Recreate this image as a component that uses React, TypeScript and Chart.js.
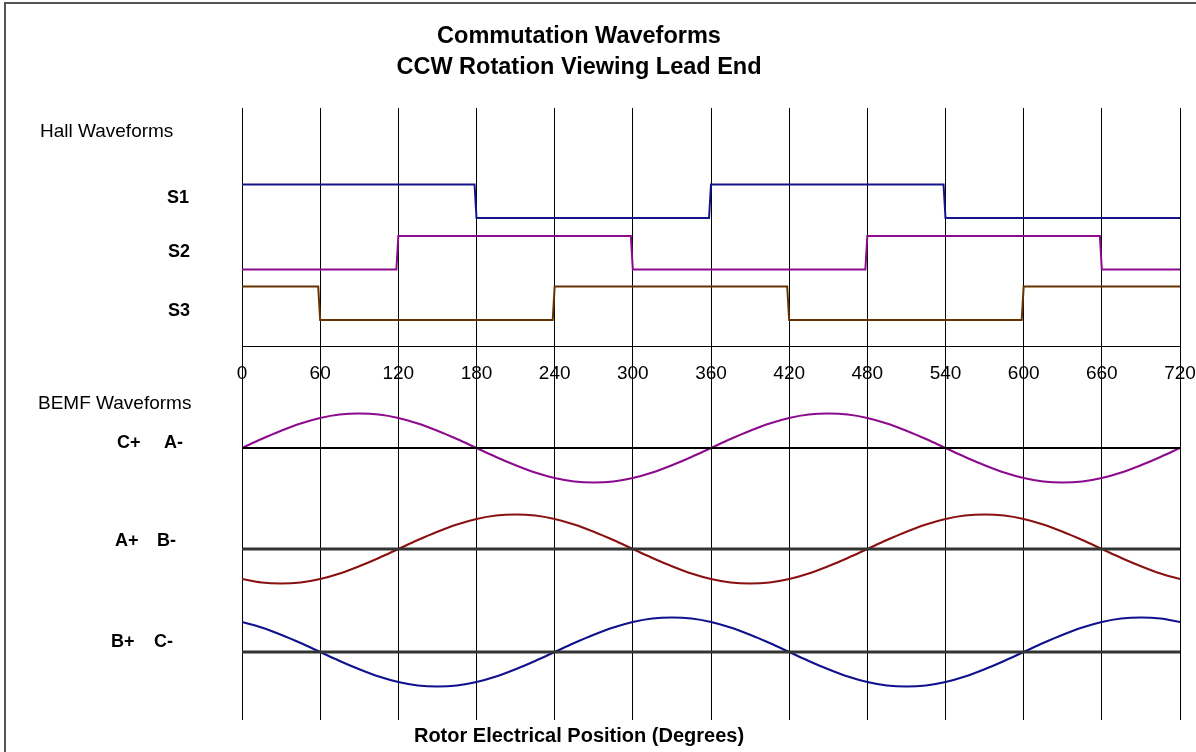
import { useEffect, useRef } from "react";
import { Chart, registerables } from "chart.js";

Chart.register(...registerables);

const FONT = "'Liberation Sans', Arial, Helvetica, sans-serif";

// ---- data ----
const tickDegrees = [0, 60, 120, 180, 240, 300, 360, 420, 480, 540, 600, 660, 720];

// Hall sensor levels per 60° segment (1 = high, 0 = low)
const hallBoundaries = [0, 60, 120, 180, 240, 300, 360, 420, 480, 540, 600, 660, 720];
const s1Levels = [1, 1, 1, 0, 0, 0, 1, 1, 1, 0, 0, 0];
const s2Levels = [0, 0, 1, 1, 1, 0, 0, 0, 1, 1, 1, 0];
const s3Levels = [1, 0, 0, 0, 1, 1, 1, 0, 0, 0, 1, 1];

// BEMF readings (normalized) every 15°
const bemfDegrees = [
  0, 15, 30, 45, 60, 75, 90, 105, 120, 135, 150, 165, 180, 195, 210, 225, 240, 255, 270, 285, 300, 315, 330, 345,
  360, 375, 390, 405, 420, 435, 450, 465, 480, 495, 510, 525, 540, 555, 570, 585, 600, 615, 630, 645, 660, 675, 690, 705, 720,
];
const bemfCA = [
  0, 0.26, 0.5, 0.71, 0.87, 0.97, 1, 0.97, 0.87, 0.71, 0.5, 0.26, 0, -0.26, -0.5, -0.71, -0.87, -0.97, -1, -0.97, -0.87, -0.71, -0.5, -0.26,
  0, 0.26, 0.5, 0.71, 0.87, 0.97, 1, 0.97, 0.87, 0.71, 0.5, 0.26, 0, -0.26, -0.5, -0.71, -0.87, -0.97, -1, -0.97, -0.87, -0.71, -0.5, -0.26, 0,
];
const bemfAB = [
  -0.87, -0.97, -1, -0.97, -0.87, -0.71, -0.5, -0.26, 0, 0.26, 0.5, 0.71, 0.87, 0.97, 1, 0.97, 0.87, 0.71, 0.5, 0.26, 0, -0.26, -0.5, -0.71,
  -0.87, -0.97, -1, -0.97, -0.87, -0.71, -0.5, -0.26, 0, 0.26, 0.5, 0.71, 0.87, 0.97, 1, 0.97, 0.87, 0.71, 0.5, 0.26, 0, -0.26, -0.5, -0.71, -0.87,
];
const bemfBC = [
  0.87, 0.71, 0.5, 0.26, 0, -0.26, -0.5, -0.71, -0.87, -0.97, -1, -0.97, -0.87, -0.71, -0.5, -0.26, 0, 0.26, 0.5, 0.71, 0.87, 0.97, 1, 0.97,
  0.87, 0.71, 0.5, 0.26, 0, -0.26, -0.5, -0.71, -0.87, -0.97, -1, -0.97, -0.87, -0.71, -0.5, -0.26, 0, 0.26, 0.5, 0.71, 0.87, 0.97, 1, 0.97, 0.87,
];

// ---- layout (chart units, measured downward from top of plot) ----
const HALL_LOW = { s1: 110, s2: 161.5, s3: 212 };
const HALL_HEIGHT = 33.5;
const SEPARATOR = 238.5;
const BEMF_BASE = { ca: 340, ab: 441, bc: 544 };
const BEMF_AMP = 34.5;
const RAMP = 1.5;

function hallPoints(levels: number[], low: number) {
  const pts: { x: number; y: number }[] = [];
  const yOf = (l: number) => low - l * HALL_HEIGHT;
  pts.push({ x: hallBoundaries[0], y: yOf(levels[0]) });
  for (let i = 1; i < levels.length; i++) {
    if (levels[i] !== levels[i - 1]) {
      const b = hallBoundaries[i];
      pts.push({ x: b - RAMP, y: yOf(levels[i - 1]) });
      pts.push({ x: b, y: yOf(levels[i]) });
    }
  }
  pts.push({ x: hallBoundaries[hallBoundaries.length - 1], y: yOf(levels[levels.length - 1]) });
  return pts;
}

function bemfPoints(values: number[], base: number) {
  return bemfDegrees.map((d, i) => ({ x: d, y: base - values[i] * BEMF_AMP }));
}

function flat(y: number) {
  return [
    { x: 0, y },
    { x: 720, y },
  ];
}

const textPlugin = {
  id: "textPlugin",
  afterDraw(chart: any) {
    const ctx = chart.ctx as CanvasRenderingContext2D;
    const xs = chart.scales.x;
    ctx.save();
    // frame
    ctx.strokeStyle = "#555";
    ctx.lineWidth = 2;
    ctx.strokeRect(5, 3, 1400, 1000);

    ctx.fillStyle = "#000";
    ctx.textBaseline = "middle";
    // title
    ctx.textAlign = "center";
    ctx.font = `bold 23.5px ${FONT}`;
    ctx.fillText("Commutation Waveforms", 579, 37);
    ctx.fillText("CCW Rotation Viewing Lead End", 579, 68);

    // section labels
    ctx.textAlign = "left";
    ctx.font = `19px ${FONT}`;
    ctx.fillText("Hall Waveforms", 40, 132);
    ctx.fillText("BEMF Waveforms", 38, 404);

    ctx.font = `bold 18px ${FONT}`;
    ctx.textAlign = "right";
    ctx.fillText("S1", 189, 198);
    ctx.fillText("S2", 190, 252);
    ctx.fillText("S3", 190, 311);

    ctx.textAlign = "left";
    ctx.fillText("C+", 117, 443);
    ctx.fillText("A-", 164, 443);
    ctx.fillText("A+", 115, 541);
    ctx.fillText("B-", 157, 541);
    ctx.fillText("B+", 111, 642);
    ctx.fillText("C-", 154, 642);

    // tick labels
    ctx.textAlign = "center";
    ctx.font = `19px ${FONT}`;
    tickDegrees.forEach((d) => ctx.fillText(String(d), xs.getPixelForValue(d), 374));

    // axis title
    ctx.font = `bold 20px ${FONT}`;
    ctx.fillText("Rotor Electrical Position (Degrees)", 579, 736);
    ctx.restore();
  },
};

export default function App() {
  const ref = useRef<HTMLCanvasElement | null>(null);

  useEffect(() => {
    document.body.style.margin = "0";
    document.body.style.overflow = "hidden";
    if (!ref.current) return;
    const line = (data: any, color: string, width: number, smooth = false) => ({
      data,
      borderColor: color,
      borderWidth: width,
      pointRadius: 0,
      fill: false,
      tension: 0,
      cubicInterpolationMode: smooth ? "monotone" : "default",
    });
    const chart = new Chart(ref.current, {
      type: "line",
      data: {
        datasets: [
          line(flat(SEPARATOR), "#000", 1),
          line(flat(BEMF_BASE.ca), "#000", 2),
          line(flat(BEMF_BASE.ab), "#333", 3),
          line(flat(BEMF_BASE.bc), "#333", 3),
          line(hallPoints(s1Levels, HALL_LOW.s1), "#14148c", 2),
          line(hallPoints(s2Levels, HALL_LOW.s2), "#8c0a8c", 2),
          line(hallPoints(s3Levels, HALL_LOW.s3), "#663300", 2),
          line(bemfPoints(bemfCA, BEMF_BASE.ca), "#8c0a8c", 2, true),
          line(bemfPoints(bemfAB, BEMF_BASE.ab), "#8a1010", 2, true),
          line(bemfPoints(bemfBC, BEMF_BASE.bc), "#10108c", 2, true),
        ] as any,
      },
      options: {
        animation: false,
        responsive: false,
        events: [],
        layout: { padding: { left: 242, right: 16, top: 108, bottom: 32 } },
        plugins: { legend: { display: false }, tooltip: { enabled: false }, title: { display: false } },
        scales: {
          x: {
            type: "linear",
            min: 0,
            max: 720,
            position: "top",
            ticks: { display: false, stepSize: 60 },
            grid: { display: true, color: "#000", lineWidth: 1, drawTicks: false },
            border: { display: false },
          },
          y: {
            type: "linear",
            min: 0,
            max: 612,
            reverse: true,
            display: false,
          },
        },
      },
      plugins: [textPlugin],
    });
    return () => chart.destroy();
  }, []);

  return (
    <div style={{ width: 1196, height: 752, background: "#fff" }}>
      <canvas ref={ref} width={1196} height={752} style={{ display: "block" }} />
    </div>
  );
}
